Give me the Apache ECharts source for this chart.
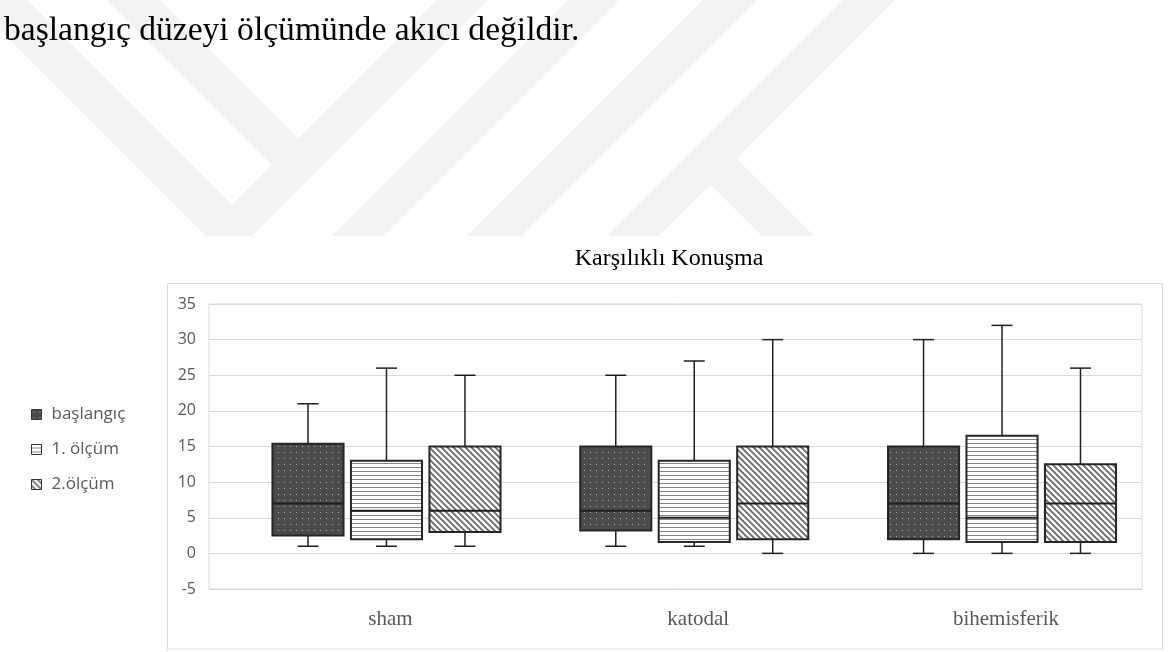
<!DOCTYPE html>
<html>
<head>
<meta charset="utf-8">
<script src="https://cdn.jsdelivr.net/npm/echarts@6/dist/echarts.min.js"></script>
<style>
  html, body { margin: 0; padding: 0; background: #ffffff; }
  #chart { width: 1173px; height: 652px; }
</style>
</head>
<body>
<div id="chart"></div>
<script>
// Groups on the x axis
const categories = ['sham', 'katodal', 'bihemisferik'];
// Each row: [min, Q1, median, Q3, max]
const baslangic = [[1, 2.5, 7, 15.4, 21], [1, 3.2, 6, 15, 25], [0, 2, 7, 15, 30]];
const olcum1    = [[1, 2, 6, 13, 26],     [1, 1.6, 5, 13, 27], [0, 1.6, 5, 16.5, 32]];
const olcum2    = [[1, 3, 6, 15, 25],     [0, 2, 7, 15, 30],   [0, 1.6, 7, 12.5, 26]];
const seriesNames = ['başlangıç', '1. ölçüm', '2.ölçüm'];
const yTicks = { min: -5, max: 35, step: 5 };

// Fill tiles: dotted dark, horizontal lines, diagonal stripes
function makeTile(w, h, draw) {
  const c = document.createElement('canvas');
  c.width = w; c.height = h;
  draw(c.getContext('2d'), w, h);
  return c;
}
const dotTile = makeTile(6, 6, g => {
  g.fillStyle = '#4b4b4b'; g.fillRect(0, 0, 6, 6);
  g.fillStyle = '#b0b0b0'; g.fillRect(2, 2, 1, 1);
});
const lineTile = makeTile(4, 4, g => {
  g.fillStyle = '#ffffff'; g.fillRect(0, 0, 4, 4);
  g.fillStyle = '#868686'; g.fillRect(0, 3, 4, 1);
});
const diagTile = makeTile(6, 6, g => {
  g.fillStyle = '#ffffff'; g.fillRect(0, 0, 6, 6);
  g.strokeStyle = '#666666'; g.lineWidth = 1.7;
  g.beginPath();
  g.moveTo(-1, -1); g.lineTo(7, 7);
  g.moveTo(5, -1); g.lineTo(8, 2);
  g.moveTo(-2, 4); g.lineTo(1, 7);
  g.stroke();
});
const fills = [
  { image: dotTile, repeat: 'repeat' },
  { image: lineTile, repeat: 'repeat' },
  { image: diagTile, repeat: 'repeat' }
];

const boxData = [baslangic, olcum1, olcum2].map(rows =>
  rows.map((r, i) => [i].concat(r))
);
const offsets = [-0.255, 0, 0.255];

function boxRenderer(k) {
  return function (params, api) {
    const cat = api.value(0);
    const band = api.size([1, 0])[0];
    const cx = api.coord([cat, 0])[0] + offsets[k] * band;
    const y = d => api.coord([cat, api.value(d)])[1];
    const yMin = y(1), yQ1 = y(2), yMed = y(3), yQ3 = y(4), yMax = y(5);
    const hw = band * 0.1155;
    const cap = 10.5;
    const ln = { stroke: '#1f1f1f', lineWidth: 1.5 };
    return {
      type: 'group',
      children: [
        { type: 'line', shape: { x1: cx, y1: yMax, x2: cx, y2: yQ3 }, style: ln },
        { type: 'line', shape: { x1: cx - cap, y1: yMax, x2: cx + cap, y2: yMax }, style: ln },
        { type: 'line', shape: { x1: cx, y1: yQ1, x2: cx, y2: yMin }, style: ln },
        { type: 'line', shape: { x1: cx - cap, y1: yMin, x2: cx + cap, y2: yMin }, style: ln },
        { type: 'rect', shape: { x: cx - hw, y: yQ3, width: hw * 2, height: yQ1 - yQ3 },
          style: { fill: fills[k], stroke: '#262626', lineWidth: 2 } },
        { type: 'line', shape: { x1: cx - hw, y1: yMed, x2: cx + hw, y2: yMed },
          style: { stroke: '#1f1f1f', lineWidth: 2 } }
      ]
    };
  };
}

// Light background chevrons
const wm = '#f2f2f2';
const chevrons = [
  [[-30, 0], [206, 236], [252, 236], [488, 0], [437, 0], [232, 205], [27, 0]],
  [[107, 0], [160, 0], [305, 145], [278.5, 171.5]],
  [[568, 0], [620, 0], [384, 236], [332, 236]],
  [[703, 0], [757, 0], [521, 236], [467, 236]],
  [[843, 0], [895, 0], [659, 236], [607, 236]],
  [[708, 182], [734, 156], [814, 236], [762, 236]]
];

const chart = echarts.init(document.getElementById('chart'), null, { renderer: 'canvas' });
chart.setOption({
  backgroundColor: '#ffffff',
  animation: false,
  title: {
    text: 'Karşılıklı Konuşma',
    left: 664, top: 242, textAlign: 'center',
    textStyle: { fontFamily: 'Liberation Serif', fontSize: 24, fontWeight: 'normal', color: '#000000' }
  },
  graphic: chevrons.map(p => ({
    type: 'polygon', z: -10, silent: true,
    shape: { points: p }, style: { fill: wm }
  })).concat([
    {
      type: 'text', left: 4, top: 14, z: 5,
      style: { text: 'başlangıç düzeyi ölçümünde akıcı değildir.', font: '33.6px "Liberation Serif"', fill: '#000000' }
    },
    {
      type: 'rect', z: -5, silent: true,
      shape: { x: 167.5, y: 283.5, width: 995, height: 365.5 },
      style: { fill: 'transparent', stroke: '#d9d9d9', lineWidth: 1 }
    }
  ]),
  legend: {
    orient: 'vertical',
    left: 26, top: 401,
    itemWidth: 10, itemHeight: 10, itemGap: 18,
    textStyle: { fontFamily: 'Open Sans', fontSize: 17, color: '#595959', lineHeight: 17, padding: [0, 0, 0, 5] },
    data: seriesNames.map((n, k) => ({
      name: n, icon: 'rect',
      itemStyle: { color: fills[k], borderColor: '#333333', borderWidth: 1 }
    }))
  },
  grid: [
    { left: 209, right: 31, top: 304, bottom: 63, show: true, borderColor: '#d9d9d9', borderWidth: 1, backgroundColor: 'transparent' },
    { left: 232.6, right: 17.1, top: 304, bottom: 63 }
  ],
  xAxis: [
    { gridIndex: 0, type: 'category', data: categories, show: false },
    {
      gridIndex: 1, type: 'category', data: categories,
      axisLine: { show: false }, axisTick: { show: false }, splitLine: { show: false },
      axisLabel: { margin: 20, fontFamily: 'Liberation Serif', fontSize: 21, color: '#595959', padding: [0, 0, 0, 8] }
    }
  ],
  yAxis: [
    {
      gridIndex: 0, type: 'value', min: yTicks.min, max: yTicks.max, interval: yTicks.step,
      axisLine: { show: false }, axisTick: { show: false },
      axisLabel: { margin: 13, fontFamily: 'Open Sans', fontSize: 16, color: '#595959' },
      splitLine: { lineStyle: { color: '#d9d9d9', width: 1 } }
    },
    { gridIndex: 1, type: 'value', min: yTicks.min, max: yTicks.max, interval: yTicks.step, show: false }
  ],
  series: boxData.map((d, k) => ({
    name: seriesNames[k],
    type: 'custom',
    xAxisIndex: 1, yAxisIndex: 1,
    itemStyle: { color: fills[k] },
    encode: { x: 0, y: [1, 2, 3, 4, 5] },
    renderItem: boxRenderer(k),
    data: d
  }))
});
</script>
</body>
</html>
